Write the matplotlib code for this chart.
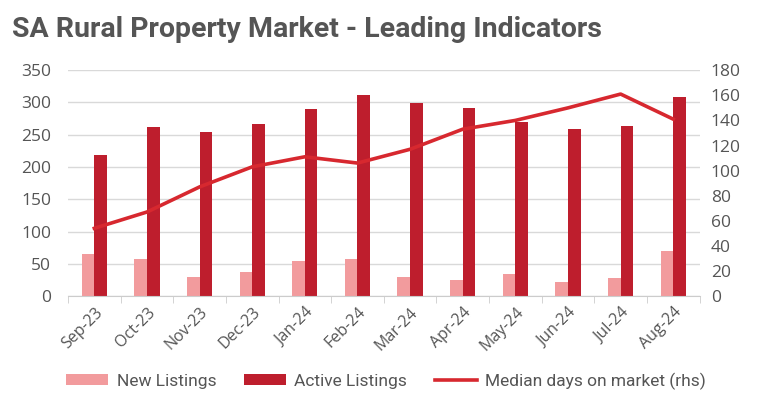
import numpy as np
import matplotlib
matplotlib.use("Agg")
import matplotlib.pyplot as plt
from matplotlib.ticker import FixedLocator

months = ["Sep-23", "Oct-23", "Nov-23", "Dec-23", "Jan-24", "Feb-24",
          "Mar-24", "Apr-24", "May-24", "Jun-24", "Jul-24", "Aug-24"]
new_listings = [65, 57, 30, 37, 54, 57, 30, 25, 34, 22, 28, 70]
active_listings = [218, 262, 254, 267, 290, 311, 299, 291, 269, 259, 264, 309]
median_days = [54, 67, 87, 103, 111, 106, 117, 133, 140, 150, 161, 141]

plt.rcParams['font.family'] = ['Open Sans', 'DejaVu Sans']
grey = '#555555'

fig = plt.figure(figsize=(7.6, 3.99), dpi=100)
ax = fig.add_axes([0.0895, 0.258, 0.831, 0.566])
ax2 = ax.twinx()

x = np.arange(len(months))
w = 0.24
ax.bar(x - w / 2, new_listings, w, color='#f29b9d', label='New Listings', zorder=2)
ax.bar(x + w / 2, active_listings, w, color='#be1e2d', label='Active Listings', zorder=2)
ax2.plot(x, median_days, color='#d7282f', lw=2.6, label='Median days on market (rhs)', zorder=3)

ax.set_xlim(-0.5, len(months) - 0.5)
ax.set_ylim(0, 350)
ax.set_yticks(range(0, 351, 50))
ax2.set_ylim(0, 180)
ax2.set_yticks(range(0, 181, 20))

ax.yaxis.grid(True, color='#d9d9d9', lw=1, zorder=0)
ax.set_axisbelow(True)
for a in (ax, ax2):
    for s in a.spines.values():
        s.set_visible(False)
ax.spines['bottom'].set_visible(True)
ax.spines['bottom'].set_color('#cccccc')

ax.set_xticks(x)
ax.set_xticklabels(months, rotation=45, ha='right', rotation_mode='anchor',
                   fontsize=11.5, color=grey)
ax.tick_params(axis='x', length=0, pad=6)
ax.xaxis.set_minor_locator(FixedLocator(np.arange(-0.5, len(months), 1)))
ax.tick_params(axis='x', which='minor', length=5, color='#cccccc')
ax.tick_params(axis='y', length=0, labelsize=12.5, labelcolor=grey, pad=12)
ax2.tick_params(axis='y', length=0, labelsize=12.5, labelcolor=grey, pad=8)

fig.text(0.016, 0.925, 'SA Rural Property Market - Leading Indicators',
         fontsize=20.5, fontweight='bold', color='#555555', va='center',
         family=['Roboto', 'DejaVu Sans'])

h1, l1 = ax.get_legend_handles_labels()
h2, l2 = ax2.get_legend_handles_labels()
fig.legend(h1 + h2, l1 + l2, loc='center', bbox_to_anchor=(0.508, 0.045), ncol=3,
           frameon=False, labelcolor=grey, handlelength=2.4,
           handleheight=0.6, columnspacing=1.6, handletextpad=0.5,
           prop={'family': ['Roboto', 'DejaVu Sans'], 'size': 12.5})

fig.savefig('out.png', dpi=100)
